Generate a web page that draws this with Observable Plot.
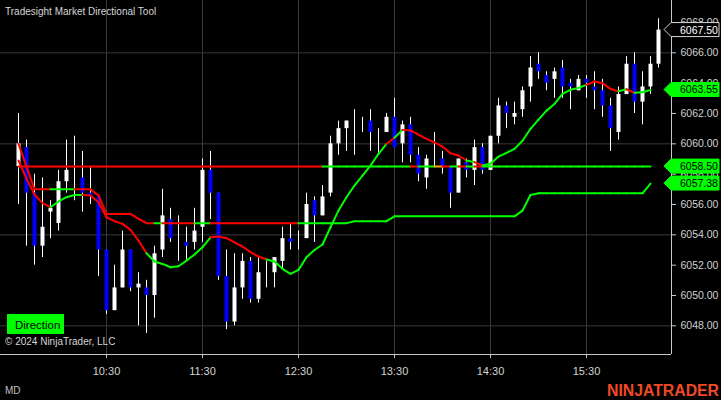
<!DOCTYPE html>
<html><head><meta charset="utf-8">
<script src="https://cdn.jsdelivr.net/npm/d3@7"></script>
<script src="https://cdn.jsdelivr.net/npm/@observablehq/plot@0.6"></script>
<style>html,body{margin:0;padding:0;background:#000;overflow:hidden}</style>
</head><body><div id="chart"></div>
<script>
// ---- data (5-minute bars, ES, 09:35 .. 16:15) ----
const opens = [6058.5,6059.75,6056.75,6053.25,6055.5,6054.75,6057.5,6058.0,6057.75,6056.75,
  6056.5,6053.0,6049.0,6050.5,6053.0,6050.5,6050.5,6050.0,6053.0,6055.0,
  6054.0,6053.5,6053.5,6054.5,6058.25,6056.75,6051.25,6048.25,6050.5,6052.25,
  6049.75,6051.5,6051.5,6052.25,6053.75,6053.5,6053.75,6056.25,6055.25,6056.75,
  6060.0,6061.0,6061.0,6061.25,6061.5,6060.0,6060.75,6061.75,6060.0,6061.25,
  6059.25,6057.75,6059.0,6059.0,6058.5,6056.75,6058.75,6058.25,6059.75,6058.25,
  6060.5,6062.5,6061.75,6062.25,6063.75,6065.25,6064.5,6064.25,6065.0,6064.0,
  6063.5,6064.25,6063.75,6063.5,6062.5,6060.75,6063.25,6065.25,6062.75,6063.75,6065.25];
const highs = [6062.0,6060.25,6058.0,6057.75,6056.25,6058.25,6060.25,6060.5,6059.5,6058.5,
  6056.5,6053.0,6052.0,6054.25,6053.0,6051.5,6051.0,6053.25,6057.0,6055.75,
  6055.25,6054.5,6055.75,6059.0,6059.5,6056.75,6053.0,6052.75,6052.75,6052.5,
  6052.5,6052.25,6052.5,6054.5,6054.75,6054.25,6056.75,6056.5,6057.25,6060.5,
  6061.5,6061.5,6062.25,6061.75,6062.25,6061.0,6062.0,6063.0,6061.5,6061.75,
  6059.75,6059.25,6060.75,6059.5,6058.5,6059.0,6059.0,6060.25,6060.0,6060.5,
  6063.0,6062.75,6062.75,6063.75,6065.75,6066.0,6064.75,6065.0,6065.5,6064.25,
  6064.5,6064.5,6064.75,6064.25,6063.0,6063.75,6065.75,6066.0,6064.75,6065.75,6068.25];
const lows = [6056.0,6053.25,6052.0,6052.5,6053.75,6054.25,6056.75,6056.25,6055.5,6056.0,
  6051.25,6048.75,6049.0,6050.5,6050.25,6048.0,6047.5,6048.5,6052.5,6053.5,
  6052.25,6052.25,6053.0,6053.5,6055.0,6051.0,6047.75,6048.0,6049.75,6049.5,
  6049.5,6050.5,6050.5,6051.75,6053.0,6053.0,6053.75,6053.5,6055.25,6056.5,
  6059.25,6059.5,6059.25,6060.75,6059.5,6059.25,6060.75,6059.75,6058.75,6058.75,
  6057.5,6057.0,6058.5,6058.0,6055.75,6056.75,6057.75,6057.25,6058.0,6058.25,
  6060.0,6061.0,6061.25,6061.75,6062.75,6064.25,6063.5,6063.0,6063.0,6062.25,
  6063.5,6063.0,6062.25,6061.75,6059.5,6060.25,6063.25,6062.0,6061.25,6063.25,6065.0];
const closes = [6060.0,6056.75,6053.25,6054.5,6055.75,6057.5,6058.25,6058.0,6056.75,6056.5,
  6053.0,6049.0,6050.5,6053.0,6050.5,6050.75,6050.0,6052.75,6055.25,6053.75,
  6054.0,6053.25,6054.25,6058.25,6056.75,6051.25,6048.25,6050.5,6052.25,6049.75,
  6051.5,6051.5,6052.5,6053.75,6053.5,6053.5,6056.0,6055.25,6056.5,6060.0,
  6061.0,6061.5,6061.0,6061.25,6060.75,6060.0,6061.75,6059.75,6061.25,6059.25,
  6058.0,6059.0,6059.0,6058.5,6056.75,6059.0,6058.25,6059.75,6058.25,6060.5,
  6062.5,6062.0,6062.0,6063.5,6065.0,6064.75,6064.0,6064.75,6063.75,6063.75,
  6064.25,6064.0,6063.5,6062.5,6061.0,6063.25,6065.25,6062.75,6063.75,6065.25,6067.5];
// directional moving average (bars 1..80)
const maLine = [6058.9,6057.7,6056.66,6056.09,6055.82,6056.2,6056.48,6056.63,6056.63,6056.6,
  6056.15,6055.16,6054.9,6054.72,6054.33,6053.62,6052.79,6052.24,6052.08,6051.86,
  6051.93,6052.3,6052.7,6053.18,6053.84,6053.89,6053.78,6053.5,6053.23,6052.86,
  6052.57,6052.37,6052.24,6051.76,6051.43,6051.69,6052.52,6053.0,6053.36,6054.5,
  6055.6,6056.48,6057.25,6057.9,6058.57,6059.34,6060.0,6060.4,6060.92,6060.88,
  6060.6,6060.33,6060.1,6059.82,6059.38,6059.23,6058.9,6058.79,6058.57,6058.68,
  6059.16,6059.4,6059.67,6060.2,6060.99,6061.6,6062.19,6062.63,6063.29,6063.56,
  6063.69,6063.89,6064.11,6064.0,6063.62,6063.47,6063.6,6063.36,6063.4,6063.55];
// stepped trend line (bars 1..80)
const stepLine = [6060.0,6058.5,6057.0,6057.0,6057.0,6057.0,6057.0,6057.0,6057.0,6057.0,
  6056.6,6055.38,6055.38,6055.38,6055.38,6055.05,6054.77,6054.77,6054.77,6054.77,
  6054.77,6054.77,6054.77,6054.77,6054.77,6054.77,6054.77,6054.77,6054.77,6054.77,
  6054.77,6054.77,6054.77,6054.77,6054.77,6054.77,6054.77,6054.77,6054.77,6054.77,
  6054.77,6054.77,6054.9,6054.9,6054.9,6054.9,6054.9,6055.22,6055.22,6055.22,
  6055.22,6055.22,6055.22,6055.22,6055.22,6055.22,6055.22,6055.22,6055.22,6055.22,
  6055.22,6055.22,6055.22,6055.6,6056.63,6056.74,6056.74,6056.74,6056.74,6056.74,
  6056.74,6056.74,6056.74,6056.74,6056.74,6056.74,6056.74,6056.74,6056.74,6057.38];
const openLevel = 6058.5;
const lineBars = 80;
const firstBarTime = "09:35";
const barMinutes = 5;
const timeTicks = ["10:30","11:30","12:30","13:30","14:30","15:30"];
const priceTicks = [6048,6050,6052,6054,6056,6058,6060,6062,6064,6066,6068];
const gridPrices = [6048,6054,6060,6066];
const xDomainTimes = ["09:23:45","16:23:07.5"];
const yDomain = [6046.11, 6069.45];

const GREEN = "#00ff00", RED = "#ff0000", ORANGE = "#ffa500", BLUE = "#0000ff";

function toDate(s){
  const [h,m,sec] = s.split(":");
  const secs = sec ? parseFloat(sec) : 0;
  return new Date(Date.UTC(2024,11,9,+h,+m,0) + secs*1000);
}
const t0 = toDate(firstBarTime);
const bars = opens.map((o,i)=>({t:new Date(+t0 + i*barMinutes*60000), o, h:highs[i], l:lows[i], c:closes[i]}));
const bodies = bars.filter(d => d.o !== d.c);

function segments(vals){
  const out = [];
  for(let i=1;i<vals.length;i++){
    const c = closes[i], v = vals[i];
    out.push({t1:bars[i-1].t, v1:vals[i-1], t2:bars[i].t, v2:v,
      col: Math.abs(c-v) < 1e-9 ? ORANGE : (c > v ? GREEN : RED)});
  }
  return out;
}
const openVals = Array.from({length: lineBars}, () => openLevel);
const openSegs = segments(openVals);
const stepSegs = segments(stepLine);
const maSegs = segments(maLine);

const xDomain = xDomainTimes.map(toDate);
const tickDates = timeTicks.map(toDate);

const plot = Plot.plot({
  width: 721, height: 400,
  marginLeft: 0, marginRight: 50, marginTop: 0, marginBottom: 46,
  style: {background:"#000", color:"#d2d2d2", fontFamily:"'Liberation Sans', Arial, sans-serif", fontSize:"10px"},
  x: {type:"utc", domain: xDomain, label: null},
  y: {domain: yDomain, label: null},
  color: {type:"identity"},
  marks: [
    Plot.ruleY(gridPrices, {stroke:"#3a3a3a", strokeWidth:1}),
    Plot.ruleX(tickDates, {stroke:"#3a3a3a", strokeWidth:1}),
    Plot.ruleX(bars, {x:"t", y1:"l", y2:"h", stroke:"#ffffff", strokeWidth:1}),
    Plot.ruleX(bodies, {x:"t", y1:"o", y2:"c", stroke: d => d.c > d.o ? "#ffffff" : BLUE, strokeWidth:4}),
    Plot.link(openSegs, {x1:"t1", y1:"v1", x2:"t2", y2:"v2", stroke:"col", strokeWidth:2, strokeLinecap:"round"}),
    Plot.link(stepSegs, {x1:"t1", y1:"v1", x2:"t2", y2:"v2", stroke:"col", strokeWidth:2, strokeLinecap:"round"}),
    Plot.link(maSegs, {x1:"t1", y1:"v1", x2:"t2", y2:"v2", stroke:"col", strokeWidth:2, strokeLinecap:"round"}),
    Plot.ruleY([yDomain[0]], {stroke:"#c8c8c8", strokeWidth:1}),
    Plot.ruleX([xDomain[1]], {stroke:"#c8c8c8", strokeWidth:1}),
    Plot.axisX({ticks: tickDates, tickFormat: d3.utcFormat("%H:%M"), tickSize:4, tickPadding:9, stroke:"#c8c8c8", fontSize:11}),
    Plot.axisY({anchor:"right", ticks: priceTicks, tickFormat: d => d.toFixed(2), tickSize:4, tickPadding:5, stroke:"#c8c8c8", fontSize:10.5})
  ]
});
document.getElementById("chart").appendChild(plot);

// ---- overlays: price flags and texts ----
const ys = plot.scale("y"), xs = plot.scale("x");
const yPos = ys.apply ? (v => ys.apply(v)) : d3.scaleLinear(ys.domain, ys.range);
const xRight = xs.range[1];
const svg = d3.select(plot);
const flags = [
  {v: closes[closes.length-1], fill:"#000", stroke:"#d8d8d8", text:"#ffffff"},
  {v: maLine[maLine.length-1], fill:GREEN, stroke:GREEN, text:"#000"},
  {v: openLevel, fill:GREEN, stroke:GREEN, text:"#000"},
  {v: stepLine[stepLine.length-1], fill:GREEN, stroke:GREEN, text:"#000"}
];
const fg = svg.append("g").attr("text-anchor", "start");
for (const f of flags){
  const y = yPos(f.v);
  fg.append("path")
    .attr("d", `M${xRight-7},${y} L${xRight},${y-7} L${xRight+48},${y-7} L${xRight+48},${y+7} L${xRight},${y+7} Z`)
    .attr("fill", f.fill).attr("stroke", f.stroke).attr("stroke-width", 1);
  fg.append("text").attr("x", xRight+9).attr("y", y+4).attr("text-anchor", "start")
    .attr("fill", f.text).attr("font-size", "10.5px").text(f.v.toFixed(2));
}
const tg = svg.append("g").attr("font-family", "'Liberation Sans', Arial, sans-serif").attr("text-anchor", "start");
tg.append("text").attr("x", 5).attr("y", 14.5).attr("fill", "#d6d6d6").attr("font-size", "10px")
  .text("Tradesight Market Directional Tool");
tg.append("rect").attr("x", 7).attr("y", 314).attr("width", 57).attr("height", 20).attr("fill", GREEN);
tg.append("text").attr("x", 15).attr("y", 328.5).attr("fill", "#000").attr("font-size", "11.5px").text("Direction");
tg.append("text").attr("x", 5).attr("y", 345).attr("fill", "#d6d6d6").attr("font-size", "10px")
  .text("© 2024 NinjaTrader, LLC");
tg.append("text").attr("x", 5).attr("y", 393.5).attr("fill", "#c0c0c0").attr("font-size", "10px").text("MD");
tg.append("text").attr("x", 719).attr("y", 396).attr("text-anchor", "end").attr("fill", "#f04a26")
  .attr("font-size", "16px").attr("font-weight", "bold").attr("textLength", 112).attr("lengthAdjust", "spacingAndGlyphs")
  .text("NINJATRADER");
</script></body></html>
